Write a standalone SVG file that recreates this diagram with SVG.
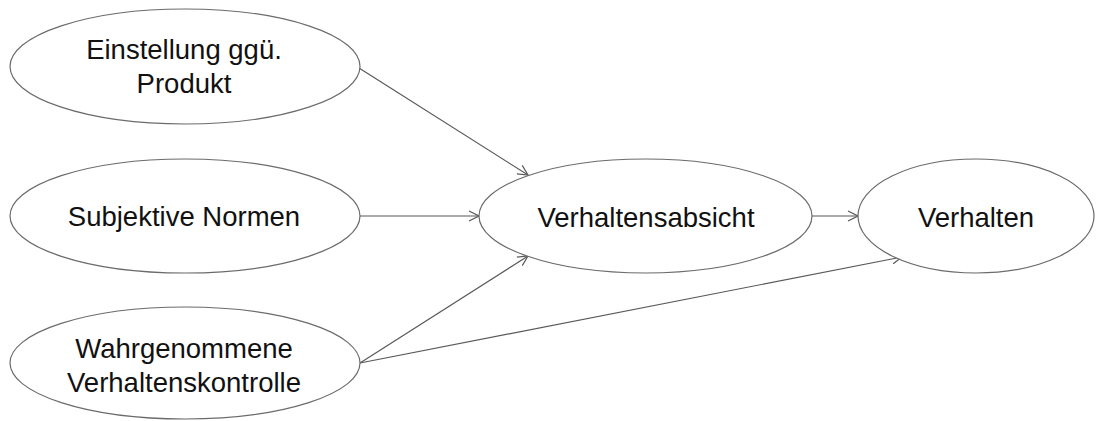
<svg xmlns="http://www.w3.org/2000/svg" width="1105" height="421" viewBox="0 0 1105 421">
  <style>
    .node ellipse { fill: #ffffff; stroke: #6b6b6b; stroke-width: 1.2; }
    .node text { font-family: "Liberation Sans", Arial, sans-serif; font-size: 27.5px; fill: #111111; text-anchor: middle; }
    .edges line { stroke: #595959; stroke-width: 1.2; fill: none; marker-end: url(#arrow); }
  </style>
  <defs>
    <marker id="arrow" viewBox="0 0 12 12" refX="11" refY="6" markerWidth="12" markerHeight="12" markerUnits="userSpaceOnUse" orient="auto">
      <path d="M1,1 L11,6 L1,11" fill="none" stroke="#595959" stroke-width="1.2"/>
    </marker>
  </defs>
  <rect width="1105" height="421" fill="#ffffff"/>

  <g class="edges">
    <line x1="359" y1="68" x2="528" y2="175"/>
    <line x1="360" y1="216" x2="479" y2="216"/>
    <line x1="360" y1="363" x2="528" y2="256"/>
    <line x1="360" y1="363" x2="902" y2="257"/>
    <line x1="812" y1="216" x2="858" y2="216"/>
  </g>

  <g id="einstellung" class="node">
    <ellipse cx="185" cy="66.5" rx="175" ry="57.5"/>
    <text x="184" y="59">Einstellung ggü.</text>
    <text x="184" y="93">Produkt</text>
  </g>

  <g id="normen" class="node">
    <ellipse cx="185" cy="216" rx="175" ry="57"/>
    <text x="184" y="226">Subjektive Normen</text>
  </g>

  <g id="kontrolle" class="node">
    <ellipse cx="185" cy="363" rx="175" ry="56"/>
    <text x="184" y="358">Wahrgenommene</text>
    <text x="184" y="392">Verhaltenskontrolle</text>
  </g>

  <g id="absicht" class="node">
    <ellipse cx="645.5" cy="216" rx="166.5" ry="57"/>
    <text x="646" y="227">Verhaltensabsicht</text>
  </g>

  <g id="verhalten" class="node">
    <ellipse cx="976" cy="216" rx="118" ry="57"/>
    <text x="976" y="227">Verhalten</text>
  </g>
</svg>
